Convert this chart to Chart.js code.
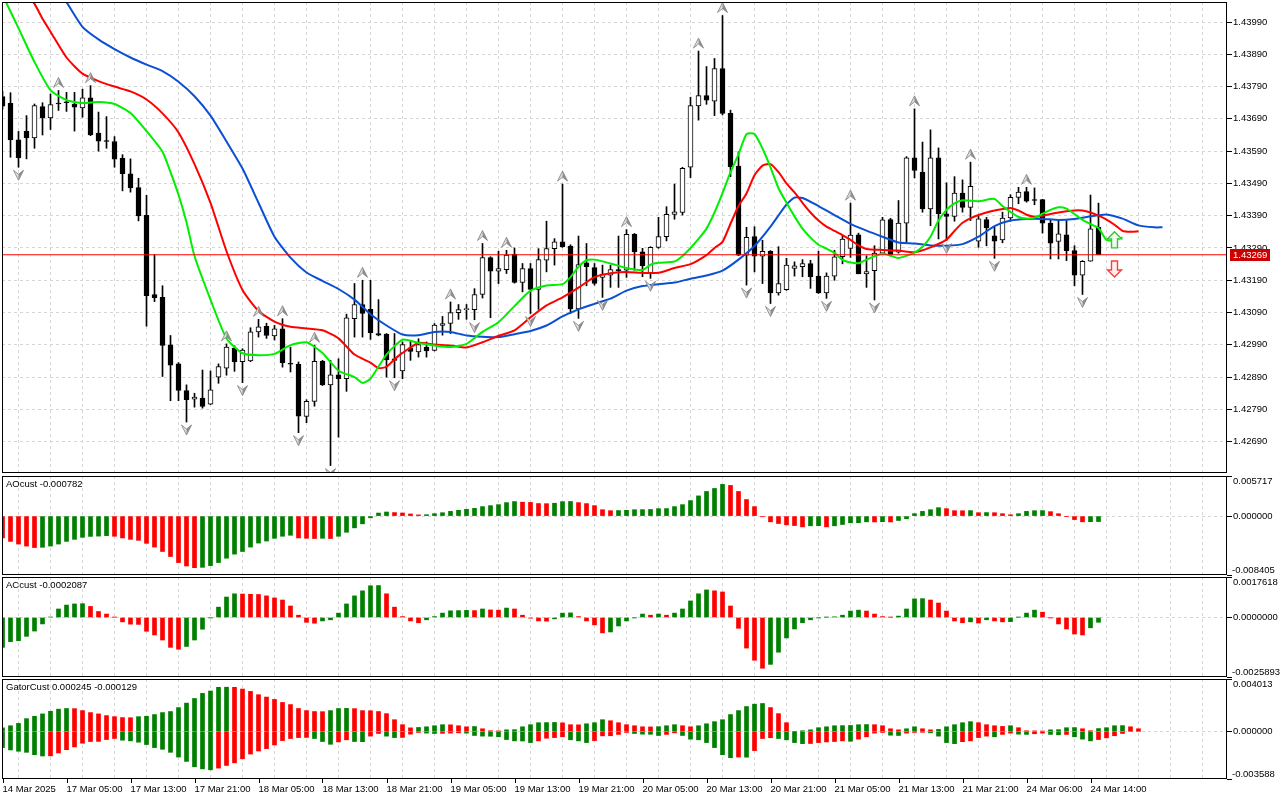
<!DOCTYPE html>
<html>
<head>
<meta charset="utf-8">
<title>H1 Alligator chart</title>
<script src="https://cdn.jsdelivr.net/npm/chart.js@4.4.1/dist/chart.umd.min.js"></script>
<style>
  html, body { margin: 0; padding: 0; background: #fff; }
  body { width: 1280px; height: 800px; position: relative; overflow: hidden; }
  canvas { position: absolute; left: 0; }
</style>
</head>
<body>
<canvas id="priceChart" width="1280" height="474" style="top:0px"></canvas>
<canvas id="aoChart" width="1280" height="101" style="top:475px"></canvas>
<canvas id="acChart" width="1280" height="102" style="top:576px"></canvas>
<canvas id="gatorChart" width="1280" height="122" style="top:678px"></canvas>
<script>
// candles, one per hour
const opens = [1.43759,1.43738,1.43625,1.43651,1.43631,1.43728,1.43693,1.43739,1.43741,1.43736,
  1.43724,1.43755,1.43646,1.43622,1.43620,1.43568,1.43520,1.43477,1.43391,1.43146,
  1.43137,1.42990,1.42931,1.42848,1.42822,1.42825,1.42806,1.42890,1.42918,1.42980,
  1.42938,1.42940,1.43030,1.43047,1.43018,1.43040,1.42932,1.42930,1.42768,1.42815,
  1.42939,1.42866,1.42897,1.42885,1.43071,1.43115,1.43100,1.43025,1.43023,1.42947,
  1.42909,1.42981,1.42968,1.42983,1.42973,1.43050,1.43056,1.43090,1.43099,1.43099,
  1.43146,1.43260,1.43218,1.43223,1.43270,1.43183,1.43226,1.43162,1.43252,1.43288,
  1.43309,1.43296,1.43101,1.43244,1.43229,1.43199,1.43206,1.43222,1.43221,1.43332,
  1.43278,1.43213,1.43292,1.43325,1.43394,1.43400,1.43540,1.43730,1.43762,1.43745,
  1.43846,1.43707,1.43544,1.43268,1.43325,1.43265,1.43280,1.43151,1.43161,1.43227,
  1.43232,1.43242,1.43203,1.43151,1.43203,1.43263,1.43289,1.43331,1.43210,1.43220,
  1.43274,1.43378,1.43277,1.43367,1.43569,1.43525,1.43411,1.43569,1.43396,1.43388,
  1.43460,1.43416,1.43311,1.43378,1.43328,1.43315,1.43383,1.43447,1.43465,1.43438,
  1.43440,1.43367,1.43310,1.43331,1.43282,1.43206,1.43249,1.43354];
const highs = [1.43775,1.43771,1.43651,1.43700,1.43736,1.43740,1.43767,1.43778,1.43772,1.43772,
  1.43782,1.43793,1.43711,1.43697,1.43635,1.43579,1.43566,1.43506,1.43453,1.43270,
  1.43173,1.43019,1.42935,1.42866,1.42840,1.42912,1.42909,1.42931,1.42993,1.42987,
  1.42978,1.43043,1.43069,1.43057,1.43050,1.43071,1.42983,1.42937,1.42820,1.42989,
  1.42942,1.42942,1.42947,1.43085,1.43180,1.43190,1.43190,1.43130,1.43025,1.43025,
  1.42999,1.43004,1.43009,1.42999,1.43056,1.43078,1.43123,1.43115,1.43115,1.43164,
  1.43304,1.43263,1.43280,1.43283,1.43290,1.43242,1.43242,1.43288,1.43373,1.43319,
  1.43488,1.43300,1.43327,1.43304,1.43242,1.43237,1.43237,1.43327,1.43347,1.43335,
  1.43289,1.43294,1.43385,1.43418,1.43488,1.43540,1.43757,1.43900,1.43852,1.43877,
  1.44010,1.43717,1.43588,1.43354,1.43356,1.43314,1.43282,1.43294,1.43258,1.43247,
  1.43254,1.43252,1.43280,1.43213,1.43283,1.43328,1.43429,1.43336,1.43266,1.43297,
  1.43385,1.43382,1.43437,1.43573,1.43721,1.43618,1.43656,1.43600,1.43492,1.43511,
  1.43501,1.43556,1.43390,1.43385,1.43354,1.43401,1.43455,1.43478,1.43478,1.43476,
  1.43441,1.43377,1.43375,1.43375,1.43297,1.43251,1.43454,1.43429];
const lows = [1.43720,1.43571,1.43540,1.43566,1.43599,1.43640,1.43657,1.43716,1.43713,1.43652,
  1.43695,1.43638,1.43590,1.43599,1.43540,1.43467,1.43463,1.43374,1.43048,1.43124,
  1.42892,1.42817,1.42817,1.42751,1.42797,1.42794,1.42805,1.42871,1.42896,1.42908,
  1.42873,1.42938,1.43014,1.43010,1.43005,1.42921,1.42906,1.42718,1.42749,1.42800,
  1.42864,1.42616,1.42704,1.42846,1.43014,1.43014,1.43007,1.43018,1.42890,1.42888,
  1.42885,1.42942,1.42952,1.42952,1.42971,1.43020,1.43025,1.43069,1.43069,1.43068,
  1.43135,1.43074,1.43180,1.43211,1.43181,1.43154,1.43087,1.43100,1.43216,1.43237,
  1.43292,1.43087,1.43072,1.43173,1.43175,1.43137,1.43168,1.43168,1.43199,1.43221,
  1.43201,1.43196,1.43289,1.43312,1.43379,1.43392,1.43508,1.43686,1.43735,1.43700,
  1.43702,1.43511,1.43266,1.43175,1.43216,1.43180,1.43118,1.43144,1.43159,1.43203,
  1.43201,1.43165,1.43149,1.43134,1.43190,1.43241,1.43261,1.43210,1.43168,1.43129,
  1.43272,1.43266,1.43274,1.43308,1.43507,1.43401,1.43359,1.43318,1.43313,1.43373,
  1.43401,1.43375,1.43292,1.43297,1.43258,1.43306,1.43373,1.43427,1.43432,1.43424,
  1.43336,1.43256,1.43256,1.43251,1.43173,1.43146,1.43249,1.43269];
const closes = [1.43729,1.43625,1.43569,1.43631,1.43731,1.43693,1.43734,1.43736,1.43740,1.43726,
  1.43755,1.43640,1.43621,1.43620,1.43565,1.43520,1.43476,1.43389,1.43142,1.43136,
  1.42988,1.42927,1.42849,1.42820,1.42828,1.42799,1.42851,1.42923,1.42983,1.42937,
  1.42974,1.43030,1.43046,1.43019,1.43040,1.42935,1.42930,1.42769,1.42815,1.42939,
  1.42866,1.42897,1.42885,1.43074,1.43115,1.43087,1.43028,1.43020,1.42944,1.42942,
  1.42991,1.42970,1.42991,1.42971,1.43051,1.43056,1.43090,1.43099,1.43100,1.43146,
  1.43260,1.43218,1.43226,1.43268,1.43183,1.43226,1.43162,1.43254,1.43288,1.43309,
  1.43294,1.43101,1.43239,1.43232,1.43180,1.43209,1.43223,1.43220,1.43332,1.43278,
  1.43235,1.43292,1.43325,1.43394,1.43402,1.43537,1.43731,1.43762,1.43748,1.43846,
  1.43707,1.43542,1.43268,1.43323,1.43265,1.43280,1.43151,1.43180,1.43237,1.43235,
  1.43242,1.43201,1.43151,1.43203,1.43263,1.43318,1.43330,1.43210,1.43217,1.43274,
  1.43377,1.43270,1.43367,1.43569,1.43530,1.43411,1.43569,1.43396,1.43388,1.43460,
  1.43416,1.43481,1.43380,1.43352,1.43311,1.43383,1.43447,1.43463,1.43435,1.43437,
  1.43367,1.43305,1.43334,1.43282,1.43206,1.43249,1.43349,1.43269];

// alligator lines as [bar, price]
const jaw = [[0,1.44360],[4,1.44210],[8,1.44052],[10,1.43975],[12,1.43936],[14,1.43906],[16,1.43880],
  [18,1.43858],[20,1.43838],[22,1.43805],[24,1.43760],[26,1.43700],[28,1.43620],[30,1.43536],[32,1.43430],
  [34,1.43325],[36,1.43260],[38,1.43214],[40,1.43188],[42,1.43163],[44,1.43130],[46,1.43085],[48,1.43050],
  [50,1.43022],[52,1.43020],[54,1.43030],[56,1.43030],[58,1.43019],[60,1.43015],[62,1.43014],[64,1.43023],
  [66,1.43033],[68,1.43050],[70,1.43078],[72,1.43100],[74,1.43117],[76,1.43133],[78,1.43158],[80,1.43172],
  [82,1.43178],[84,1.43183],[86,1.43195],[88,1.43205],[90,1.43220],[92,1.43254],[94,1.43296],[96,1.43356],
  [98,1.43425],[99,1.43446],[100,1.43445],[102,1.43420],[104,1.43392],[106,1.43365],[108,1.43344],
  [110,1.43325],[112,1.43307],[114,1.43304],[116,1.43298],[118,1.43297],[120,1.43302],[122,1.43325],
  [124,1.43358],[126,1.43375],[128,1.43380],[130,1.43380],[132,1.43377],[134,1.43380],[136,1.43388],
  [138,1.43394],[140,1.43381],[142,1.43360],[144,1.43354],[145,1.43354]];
const teeth = [[0,1.44200],[2,1.44110],[4,1.44046],[5,1.44000],[6,1.43960],[8,1.43880],[10,1.43830],
  [12,1.43807],[14,1.43790],[16,1.43775],[18,1.43750],[20,1.43707],[22,1.43648],[24,1.43550],[26,1.43430],
  [28,1.43280],[30,1.43160],[32,1.43095],[34,1.43062],[36,1.43046],[38,1.43041],[40,1.43035],[42,1.43010],
  [44,1.42960],[46,1.42935],[47,1.42918],[48,1.42922],[49,1.42945],[50,1.42965],[52,1.42996],[54,1.42991],
  [56,1.42988],[58,1.42982],[60,1.42998],[62,1.43018],[64,1.43035],[66,1.43075],[68,1.43112],[70,1.43137],
  [72,1.43167],[74,1.43200],[76,1.43212],[78,1.43216],[80,1.43213],[82,1.43213],[84,1.43228],[86,1.43240],
  [88,1.43268],[89,1.43290],[90,1.43309],[91,1.43365],[92,1.43420],[93,1.43459],[94,1.43515],[95,1.43545],
  [96,1.43550],[97,1.43525],[98,1.43490],[99,1.43462],[100,1.43430],[101,1.43400],[102,1.43375],
  [103,1.43356],[104,1.43343],[105,1.43330],[106,1.43315],[107,1.43298],[108,1.43287],[110,1.43284],
  [112,1.43282],[114,1.43277],[116,1.43292],[118,1.43316],[119,1.43343],[120,1.43368],[121,1.43382],
  [122,1.43392],[124,1.43406],[126,1.43414],[127,1.43406],[128,1.43393],[129,1.43387],[130,1.43390],
  [132,1.43400],[134,1.43406],[135,1.43406],[136,1.43400],[137,1.43390],[138,1.43378],[139,1.43362],
  [140,1.43343],[141,1.43340],[142,1.43342]];
const lips = [[0,1.44074],[2,1.43971],[4,1.43866],[6,1.43779],[8,1.43748],[10,1.43739],[12,1.43742],
  [14,1.43736],[16,1.43708],[18,1.43652],[20,1.43588],[21,1.43525],[22,1.43455],[23,1.43370],[24,1.43265],
  [26,1.43130],[28,1.43010],[30,1.42964],[32,1.42958],[34,1.42962],[36,1.42989],[38,1.42998],[40,1.42965],
  [42,1.42910],[44,1.42890],[45,1.42872],[46,1.42885],[48,1.42960],[50,1.43006],[52,1.42996],[54,1.42988],
  [56,1.42983],[58,1.42993],[60,1.43030],[62,1.43060],[64,1.43110],[66,1.43158],[68,1.43174],[70,1.43178],
  [71,1.43200],[72,1.43232],[73,1.43252],[74,1.43254],[76,1.43242],[78,1.43228],[80,1.43222],[81,1.43238],
  [82,1.43244],[84,1.43248],[85,1.43265],[86,1.43290],[87,1.43318],[88,1.43350],[89,1.43400],[90,1.43460],
  [91,1.43525],[92,1.43580],[93,1.43643],[94,1.43643],[95,1.43598],[96,1.43540],[97,1.43475],[98,1.43430],
  [99,1.43388],[100,1.43350],[101,1.43322],[102,1.43300],[103,1.43288],[104,1.43275],[105,1.43253],
  [106,1.43245],[107,1.43243],[108,1.43254],[110,1.43273],[111,1.43266],[112,1.43259],[113,1.43266],
  [114,1.43276],[115,1.43294],[116,1.43325],[117,1.43375],[118,1.43408],[119,1.43428],[120,1.43438],
  [122,1.43435],[124,1.43442],[125,1.43420],[126,1.43402],[127,1.43386],[128,1.43381],[129,1.43384],
  [130,1.43396],[131,1.43408],[132,1.43416],[133,1.43412],[134,1.43395],[135,1.43377],[136,1.43364],
  [137,1.43352],[138,1.43315],[139,1.43315],[140,1.43323]];

const fractalUp = [7,11,28,32,35,39,45,56,60,63,70,78,87,90,106,114,121,128];
const fractalDown = [2,23,30,37,41,49,59,66,72,75,81,93,96,103,109,118,124,135];
const signalUp = [[139,1.43340]];
const signalDown = [[139,1.43200]];

const aoValues = [-0.00312,-0.00361,-0.00399,-0.00428,-0.00449,-0.00445,-0.00428,-0.00399,-0.00361,-0.00332,
  -0.00303,-0.00290,-0.00286,-0.00279,-0.00288,-0.00312,-0.00332,-0.00346,-0.00389,-0.00442,
  -0.00505,-0.00577,-0.00663,-0.00712,-0.00736,-0.00731,-0.00707,-0.00663,-0.00601,-0.00543,
  -0.00505,-0.00442,-0.00385,-0.00356,-0.00317,-0.00288,-0.00274,-0.00312,-0.00317,-0.00320,
  -0.00317,-0.00320,-0.00288,-0.00231,-0.00168,-0.00111,-0.00024,0.00043,0.00058,0.00050,
  0.00044,0.00030,0.00017,0.00020,0.00034,0.00048,0.00067,0.00082,0.00096,0.00110,
  0.00135,0.00149,0.00163,0.00192,0.00207,0.00198,0.00195,0.00179,0.00177,0.00183,
  0.00206,0.00208,0.00192,0.00178,0.00149,0.00091,0.00077,0.00079,0.00082,0.00091,
  0.00092,0.00094,0.00106,0.00107,0.00135,0.00163,0.00221,0.00288,0.00351,0.00394,
  0.00452,0.00437,0.00351,0.00236,0.00135,-0.00010,-0.00082,-0.00106,-0.00125,-0.00135,
  -0.00154,-0.00139,-0.00137,-0.00154,-0.00139,-0.00120,-0.00096,-0.00094,-0.00082,-0.00084,
  -0.00080,-0.00084,-0.00063,-0.00038,0.00034,0.00067,0.00091,0.00120,0.00106,0.00077,
  0.00076,0.00078,0.00048,0.00050,0.00048,0.00034,0.00019,0.00034,0.00067,0.00077,
  0.00078,0.00063,0.00034,-0.00005,-0.00050,-0.00082,-0.00080,-0.000782];
const acValues = [-0.00130,-0.00105,-0.00101,-0.00082,-0.00059,-0.00028,0.00002,0.00037,0.00054,0.00059,
  0.00060,0.00048,0.00026,0.00015,0.00001,-0.00019,-0.00029,-0.00030,-0.00060,-0.00076,
  -0.00098,-0.00130,-0.00138,-0.00126,-0.00098,-0.00051,-0.00001,0.00045,0.00089,0.00103,
  0.00102,0.00101,0.00100,0.00094,0.00085,0.00076,0.00050,0.00010,-0.00021,-0.00025,
  -0.00015,-0.00010,0.00019,0.00059,0.00094,0.00116,0.00138,0.00139,0.00103,0.00045,
  0.00004,-0.00015,-0.00023,-0.00010,0.00004,0.00019,0.00029,0.00030,0.00031,0.00030,
  0.00037,0.00033,0.00032,0.00041,0.00037,0.00010,-0.00003,-0.00015,-0.00016,-0.00006,
  0.00019,0.00020,0.00004,-0.00015,-0.00032,-0.00067,-0.00063,-0.00037,-0.00015,-0.00001,
  0.00015,0.00010,0.00015,0.00010,0.00019,0.00037,0.00072,0.00103,0.00120,0.00116,
  0.00111,0.00050,-0.00047,-0.00133,-0.00186,-0.00221,-0.00204,-0.00151,-0.00089,-0.00050,
  -0.00023,-0.00010,-0.00001,0.00001,0.00003,0.00010,0.00028,0.00032,0.00028,0.00015,
  0.00004,0.00001,0.00006,0.00037,0.00081,0.00082,0.00076,0.00063,0.00028,-0.00015,
  -0.00023,-0.00019,-0.00024,-0.00010,-0.00015,-0.00019,-0.00018,0.00001,0.00019,0.00032,
  0.00023,-0.00001,-0.00028,-0.00050,-0.00072,-0.00076,-0.00045,-0.0002087];
const gatorUp = [0.00030,0.00046,0.00064,0.00100,0.00118,0.00136,0.00156,0.00172,0.00177,0.00176,
  0.00161,0.00146,0.00136,0.00123,0.00115,0.00108,0.00107,0.00115,0.00118,0.00131,
  0.00146,0.00154,0.00184,0.00218,0.00253,0.00292,0.00310,0.00338,0.00339,0.00338,
  0.00325,0.00307,0.00282,0.00264,0.00246,0.00223,0.00207,0.00177,0.00161,0.00154,
  0.00153,0.00161,0.00177,0.00178,0.00176,0.00161,0.00160,0.00154,0.00138,0.00092,
  0.00054,0.00030,0.00033,0.00038,0.00046,0.00054,0.00053,0.00046,0.00038,0.00040,
  0.00023,0.00008,0.00007,0.00015,0.00016,0.00038,0.00054,0.00069,0.00070,0.00071,
  0.00068,0.00054,0.00053,0.00061,0.00069,0.00092,0.00084,0.00069,0.00054,0.00046,
  0.00038,0.00037,0.00039,0.00046,0.00054,0.00046,0.00038,0.00046,0.00061,0.00077,
  0.00092,0.00131,0.00161,0.00192,0.00210,0.00215,0.00184,0.00138,0.00069,0.00003,
  0.00008,0.00015,0.00031,0.00038,0.00046,0.00047,0.00048,0.00054,0.00055,0.00054,
  0.00046,0.00023,0.00015,0.00023,0.00038,0.00023,0.00015,0.00018,0.00038,0.00054,
  0.00069,0.00077,0.00069,0.00054,0.00046,0.00041,0.00046,0.00031,0.00008,0.00007,
  0.00006,0.00015,0.00016,0.00031,0.00032,0.00023,0.00008,0.000245,0.00031,0.00046,
  0.00047,0.00038,0.00023];
const gatorLow = [-0.00120,-0.00138,-0.00148,-0.00156,-0.00174,-0.00184,-0.00183,-0.00161,-0.00136,-0.00115,
  -0.00087,-0.00074,-0.00073,-0.00059,-0.00051,-0.00064,-0.00069,-0.00079,-0.00097,-0.00120,
  -0.00133,-0.00156,-0.00192,-0.00225,-0.00266,-0.00282,-0.00289,-0.00276,-0.00256,-0.00236,
  -0.00205,-0.00169,-0.00146,-0.00128,-0.00100,-0.00067,-0.00051,-0.00044,-0.00043,-0.00051,
  -0.00074,-0.00095,-0.00077,-0.00061,-0.00074,-0.00075,-0.00033,-0.00013,-0.00033,-0.00044,
  -0.00043,-0.00018,-0.00005,-0.00010,-0.00013,-0.00012,-0.00010,-0.00008,-0.00010,-0.00028,
  -0.00033,-0.00034,-0.00038,-0.00059,-0.00069,-0.00070,-0.00082,-0.00069,-0.00049,-0.00044,
  -0.00038,-0.00061,-0.00069,-0.00082,-0.00067,-0.00031,-0.00030,-0.00020,-0.00005,-0.00013,
  -0.00018,-0.00019,-0.00028,-0.00020,-0.00008,-0.00028,-0.00056,-0.00061,-0.00082,-0.00120,
  -0.00174,-0.00197,-0.00192,-0.00193,-0.00143,-0.00051,-0.00045,-0.00051,-0.00061,-0.00082,
  -0.00090,-0.00089,-0.00082,-0.00077,-0.00074,-0.00069,-0.00072,-0.00056,-0.00038,-0.00010,
  -0.00005,-0.00026,-0.00028,-0.00010,-0.00005,-0.00003,-0.00008,-0.00033,-0.00082,-0.00090,
  -0.00075,-0.00069,-0.00044,-0.00033,-0.00038,-0.00020,-0.00010,-0.00018,-0.00020,-0.00015,
  -0.00010,-0.00020,-0.00023,-0.00020,-0.00038,-0.00056,-0.00069,-0.00059,-0.00046,-0.00030,
  -0.000129];

const priceTicks = [1.42690,1.42790,1.42890,1.42990,1.43090,1.43190,1.43290,1.43390,1.43490,1.43590,1.43690,1.43790,1.43890,1.43990];
const xLabelIdx = [0,8,16,24,32,40,48,56,64,72,80,88,96,104,112,120,128,136];
const xLabels = ['14 Mar 2025','17 Mar 05:00','17 Mar 13:00','17 Mar 21:00','18 Mar 05:00','18 Mar 13:00',
  '18 Mar 21:00','19 Mar 05:00','19 Mar 13:00','19 Mar 21:00','20 Mar 05:00','20 Mar 13:00','20 Mar 21:00',
  '21 Mar 05:00','21 Mar 13:00','21 Mar 21:00','24 Mar 06:00','24 Mar 14:00'];

const FONT = "9.5px 'Liberation Sans', Arial, sans-serif";
Chart.defaults.font.family = "'Liberation Sans', Arial, sans-serif";
Chart.defaults.font.size = 9.5;
Chart.defaults.color = '#000';

const INK = '#000000', GREEN = '#008000', RED = '#ff0000', GRID = '#d6d6d6';
const JAW = '#0a50d2', TEETH = '#ff0000', LIPS = '#00ee00', PRICE_LINE = '#ff0000';
const X_MIN = -0.0625, X_MAX = 153.0625;
const Y_MAX = 1.4405195, Y_MIN = 1.4259307;
const lastPrice = closes[closes.length - 1];

const gridIdx = [];
for (let i = 0; i <= 152; i += 4) gridIdx.push(i);

function xScale(showLabels) {
    return {
        type: 'linear', min: X_MIN, max: X_MAX, offset: false,
        afterBuildTicks: s => { s.ticks = gridIdx.map(v => ({ value: v })); },
        afterFit: s => { s.height = showLabels ? 21 : 0; s.paddingLeft = 0; s.paddingRight = 0; },
        grid: { color: GRID, drawTicks: false },
        border: { display: false, dash: [3, 3] },
        ticks: {
            display: showLabels, autoSkip: false, maxRotation: 0, minRotation: 0,
            align: 'start', padding: 5,
            callback: v => { const k = xLabelIdx.indexOf(v); return k >= 0 ? xLabels[k] : ''; }
        }
    };
}

function indicatorY(min, max) {
    return {
        position: 'right', min: min, max: max,
        afterBuildTicks: s => { s.ticks = [max, 0, min].map(v => ({ value: v })); },
        afterFit: s => { s.width = 53; s.paddingTop = 0; s.paddingBottom = 0; },
        grid: { color: c => (c.tick && c.tick.value === 0 ? GRID : 'rgba(0,0,0,0)'), tickColor: INK, tickLength: 5 },
        border: { display: false, dash: [3, 3] },
        ticks: { display: false }
    };
}

function frame(ctx, a) {
    ctx.strokeStyle = INK;
    ctx.lineWidth = 1;
    ctx.setLineDash([]);
    ctx.strokeRect(a.left + 0.5, a.top + 0.5, a.right - a.left - 1, a.bottom - a.top - 1);
}

function panelPlugin(title, axisVals, digits, bottomTicks) {
    return {
        id: 'panel',
        afterDraw(chart) {
            const { ctx, chartArea: a, scales } = chart;
            ctx.save();
            frame(ctx, a);
            ctx.font = FONT;
            ctx.fillStyle = INK;
            ctx.textAlign = 'left';
            ctx.textBaseline = 'top';
            ctx.fillText(title, a.left + 4, a.top + 4);
            axisVals.forEach((v, k) => {
                const y = scales.y.getPixelForValue(v);
                if (k === 0) { ctx.textBaseline = 'top'; ctx.fillText(v.toFixed(digits), a.right + 6, y + 1); }
                else if (k === axisVals.length - 1) { ctx.textBaseline = 'bottom'; ctx.fillText(v.toFixed(digits), a.right + 5, y); }
                else { ctx.textBaseline = 'middle'; ctx.fillText(v.toFixed(digits), a.right + 6, y); }
            });
            if (bottomTicks) {
                ctx.beginPath();
                xLabelIdx.forEach(i => {
                    const x = Math.round(scales.x.getPixelForValue(i)) + 0.5;
                    ctx.moveTo(x, a.bottom);
                    ctx.lineTo(x, a.bottom + 4);
                });
                ctx.stroke();
            }
            ctx.restore();
        }
    };
}

function fractalGlyph(ctx, x, yTip, up) {
    const d = up ? 1 : -1, h = 10, w = 5;
    ctx.beginPath();
    ctx.moveTo(x, yTip); ctx.lineTo(x - w, yTip + d * h); ctx.lineTo(x, yTip + d * h * 0.6); ctx.closePath();
    ctx.fillStyle = '#dedede'; ctx.fill();
    ctx.beginPath();
    ctx.moveTo(x, yTip); ctx.lineTo(x + w, yTip + d * h); ctx.lineTo(x, yTip + d * h * 0.6); ctx.closePath();
    ctx.fillStyle = '#8e8e8e'; ctx.fill();
    ctx.beginPath();
    ctx.moveTo(x, yTip); ctx.lineTo(x - w, yTip + d * h); ctx.lineTo(x, yTip + d * h * 0.6);
    ctx.lineTo(x + w, yTip + d * h); ctx.closePath();
    ctx.strokeStyle = '#808080'; ctx.lineWidth = 0.8; ctx.stroke();
}

function blockArrow(ctx, x, yTip, up, stroke, fill) {
    const d = up ? 1 : -1, hw = 7, sw = 3, hh = 7, len = 16;
    ctx.beginPath();
    ctx.moveTo(x, yTip);
    ctx.lineTo(x + hw, yTip + d * hh);
    ctx.lineTo(x + sw, yTip + d * hh);
    ctx.lineTo(x + sw, yTip + d * len);
    ctx.lineTo(x - sw, yTip + d * len);
    ctx.lineTo(x - sw, yTip + d * hh);
    ctx.lineTo(x - hw, yTip + d * hh);
    ctx.closePath();
    ctx.fillStyle = fill; ctx.fill();
    ctx.strokeStyle = stroke; ctx.lineWidth = 1.4; ctx.stroke();
}

const pricePlugin = {
    id: 'pricePanel',
    afterDatasetsDraw(chart) {
        const { ctx, chartArea: a, scales } = chart;
        const xs = scales.x, ys = scales.y;
        ctx.save();
        ctx.beginPath();
        ctx.rect(a.left, a.top, a.right - a.left, a.bottom - a.top);
        ctx.clip();
        fractalUp.forEach(i => {
            fractalGlyph(ctx, xs.getPixelForValue(i), ys.getPixelForValue(highs[i]) - 13, true);
        });
        fractalDown.forEach(i => {
            fractalGlyph(ctx, xs.getPixelForValue(i), ys.getPixelForValue(lows[i]) + 13, false);
        });
        signalUp.forEach(p => blockArrow(ctx, xs.getPixelForValue(p[0]), ys.getPixelForValue(p[1]), true, '#3cc03c', '#eefcee'));
        signalDown.forEach(p => blockArrow(ctx, xs.getPixelForValue(p[0]), ys.getPixelForValue(p[1]), false, '#ff3a3a', '#fff0f0'));
        ctx.restore();
    },
    afterDraw(chart) {
        const { ctx, chartArea: a, scales } = chart;
        const yc = Math.round(scales.y.getPixelForValue(lastPrice));
        ctx.save();
        frame(ctx, a);
        ctx.fillStyle = '#cc0000';
        ctx.fillRect(a.right + 3, yc - 6, 40, 12);
        ctx.fillStyle = '#ffffff';
        ctx.font = FONT;
        ctx.textBaseline = 'middle';
        ctx.textAlign = 'left';
        ctx.fillText(lastPrice.toFixed(5), a.right + 6, yc + 0.5);
        ctx.restore();
    }
};

function lineSet(pairs, color, width) {
    return {
        type: 'line', data: pairs.map(p => ({ x: p[0], y: p[1] })),
        borderColor: color, borderWidth: width || 2, pointRadius: 0, tension: 0.2, clip: 0, order: 0
    };
}

const bars = closes.map((_, i) => i);
const wickData = bars.map(i => ({ x: i, y: [lows[i], highs[i]] }));
const bodyData = bars.map(i => ({ x: i, y: [Math.min(opens[i], closes[i]), Math.max(opens[i], closes[i])] }));
const bodyFill = bars.map(i => (closes[i] >= opens[i] ? '#ffffff' : INK));
const priceLine = lineSet([[X_MIN, lastPrice], [X_MAX, lastPrice]], PRICE_LINE, 1);
priceLine.tension = 0;

const baseOptions = {
    responsive: false, animation: false, events: [],
    plugins: { legend: { display: false }, tooltip: { enabled: false } }
};

new Chart(document.getElementById('priceChart'), {
    type: 'bar',
    data: {
        datasets: [
            priceLine,
            lineSet(lips, LIPS),
            lineSet(teeth, TEETH),
            lineSet(jaw, JAW),
            { data: bodyData, backgroundColor: bodyFill, borderColor: INK, borderWidth: 1, borderSkipped: false,
              barThickness: 5, minBarLength: 1, grouped: false, order: 2 },
            { data: wickData, backgroundColor: INK, borderWidth: 0, barThickness: 1, grouped: false, order: 3 }
        ]
    },
    options: Object.assign({}, baseOptions, {
        layout: { padding: { left: 2, right: 0, top: 2, bottom: 1 } },
        scales: {
            x: xScale(false),
            y: {
                position: 'right', min: Y_MIN, max: Y_MAX,
                afterBuildTicks: s => { s.ticks = priceTicks.map(v => ({ value: v })); },
                afterFit: s => { s.width = 53; s.paddingTop = 0; s.paddingBottom = 0; },
                grid: { color: GRID, tickColor: INK, tickLength: 5 },
                border: { display: false, dash: [3, 3] },
                ticks: { padding: 1, autoSkip: false, callback: v => v.toFixed(5) }
            }
        }
    }),
    plugins: [pricePlugin]
});

function trendColors(values, first) {
    return values.map((v, i) => (i === 0 ? first : (v > values[i - 1] ? GREEN : RED)));
}
function gatorColors(values, first) {
    return values.map((v, i) => (i === 0 ? first : (Math.abs(v) > Math.abs(values[i - 1]) ? GREEN : RED)));
}
function histSet(values, colors) {
    return {
        data: values.map((v, i) => ({ x: i, y: v })), backgroundColor: colors,
        borderWidth: 0, barThickness: 4, grouped: false
    };
}

function indicatorChart(id, datasets, min, max, title, digits, withAxis, bottomPad) {
    return new Chart(document.getElementById(id), {
        type: 'bar',
        data: { datasets: datasets },
        options: Object.assign({}, baseOptions, {
            layout: { padding: { left: 2, right: 0, top: 1, bottom: bottomPad } },
            scales: { x: xScale(withAxis), y: indicatorY(min, max) }
        }),
        plugins: [panelPlugin(title, [max, 0, min], digits, withAxis)]
    });
}

indicatorChart('aoChart', [histSet(aoValues, trendColors(aoValues, RED))],
    -0.008405, 0.005717, 'AOcust -0.000782', 6, false, 1);
indicatorChart('acChart', [histSet(acValues, trendColors(acValues, GREEN))],
    -0.0025893, 0.0017618, 'ACcust -0.0002087', 7, false, 1);
indicatorChart('gatorChart', [
        histSet(gatorUp, gatorColors(gatorUp, GREEN)),
        histSet(gatorLow, gatorColors(gatorLow, GREEN))
    ],
    -0.003588, 0.004013, 'GatorCust 0.000245 -0.000129', 6, true, 0);
</script>
</body>
</html>
